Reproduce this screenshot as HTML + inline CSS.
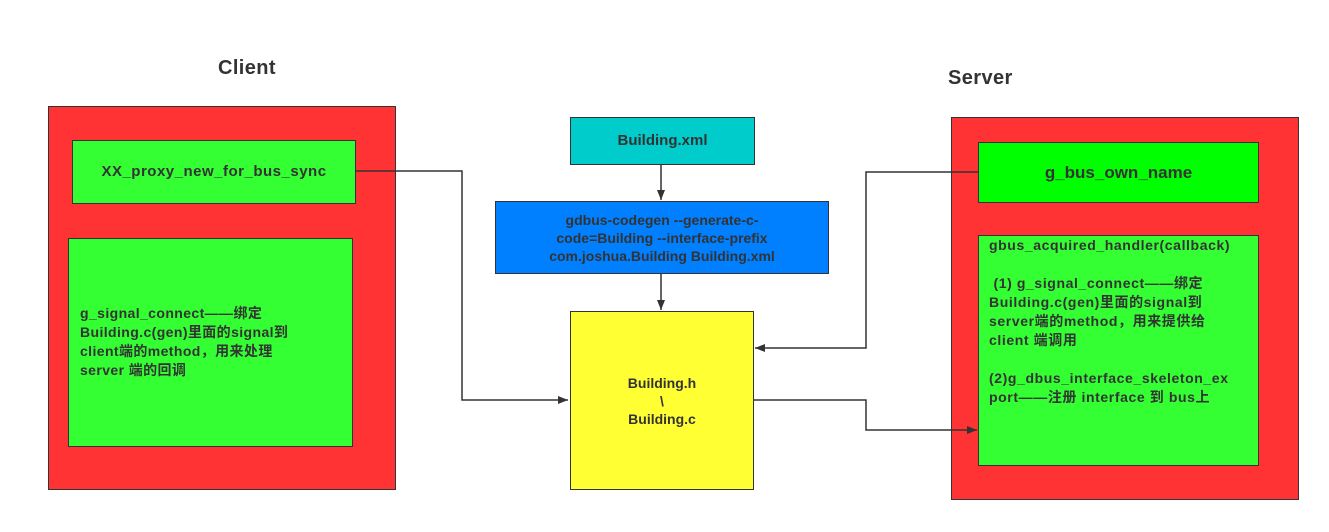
<!DOCTYPE html>
<html><head><meta charset="utf-8"><style>
body{margin:0;width:1329px;height:532px;background:#fff;position:relative;overflow:hidden;font-family:"Liberation Sans","Noto Sans CJK SC",sans-serif;font-weight:bold;color:#333;}
.b{position:absolute;box-sizing:border-box;border:1.5px solid #333;}
.t{position:absolute;font-size:14px;line-height:19px;letter-spacing:0.4px;}
.c{display:flex;align-items:center;justify-content:center;text-align:center;font-size:14px;line-height:18px;}
</style></head><body>
<div class="t" style="left:218px;top:56px;font-size:20px;line-height:24px;">Client</div>
<div class="t" style="left:948px;top:66px;font-size:20px;line-height:24px;">Server</div>

<div class="b" style="left:48px;top:106px;width:348px;height:384px;background:#ff3333;"></div>
<div class="b c" style="left:72px;top:140px;width:284px;height:64px;background:#33ff33;font-size:15px;letter-spacing:0.5px;">XX_proxy_new_for_bus_sync</div>
<div class="b" style="left:68px;top:238px;width:285px;height:209px;background:#33ff33;"></div>
<div class="t" style="left:80px;top:304px;">g_signal_connect——绑定<br>Building.c(gen)里面的signal到<br>client端的method，用来处理<br>server 端的回调</div>

<div class="b c" style="left:570px;top:117px;width:185px;height:48px;background:#00cccc;font-size:15px;">Building.xml</div>
<div class="b c" style="left:495px;top:201px;width:334px;height:73px;background:#007fff;">gdbus-codegen --generate-c-<br>code=Building --interface-prefix<br>com.joshua.Building Building.xml</div>
<div class="b c" style="left:570px;top:311px;width:184px;height:179px;background:#ffff33;">Building.h<br>\<br>Building.c</div>

<div class="b" style="left:951px;top:117px;width:348px;height:383px;background:#ff3333;"></div>
<div class="b c" style="left:978px;top:142px;width:281px;height:61px;background:#00ff00;font-size:17px;">g_bus_own_name</div>
<div class="b" style="left:978px;top:235px;width:281px;height:231px;background:#33ff33;"></div>
<div class="t" style="left:989px;top:236px;letter-spacing:0.6px;">gbus_acquired_handler(callback)<br><br>&nbsp;(1) g_signal_connect——绑定<br>Building.c(gen)里面的signal到<br>server端的method，用来提供给<br>client 端调用<br><br>(2)g_dbus_interface_skeleton_ex<br>port——注册 interface 到 bus上</div>

<svg width="1329" height="532" style="position:absolute;left:0;top:0">
<defs><marker id="a" markerWidth="10" markerHeight="8" refX="10" refY="4" orient="auto" markerUnits="userSpaceOnUse"><path d="M0,0L10,4L0,8z" fill="#333"/></marker></defs>
<g stroke="#333" stroke-width="1.5" fill="none">
<path d="M356,171H462V400H568" marker-end="url(#a)"/>
<path d="M661,165V200" marker-end="url(#a)"/>
<path d="M661,274V310" marker-end="url(#a)"/>
<path d="M978,172H866V348H755" marker-end="url(#a)"/>
<path d="M754,400H866V430H977" marker-end="url(#a)"/>
</g></svg>
</body></html>
